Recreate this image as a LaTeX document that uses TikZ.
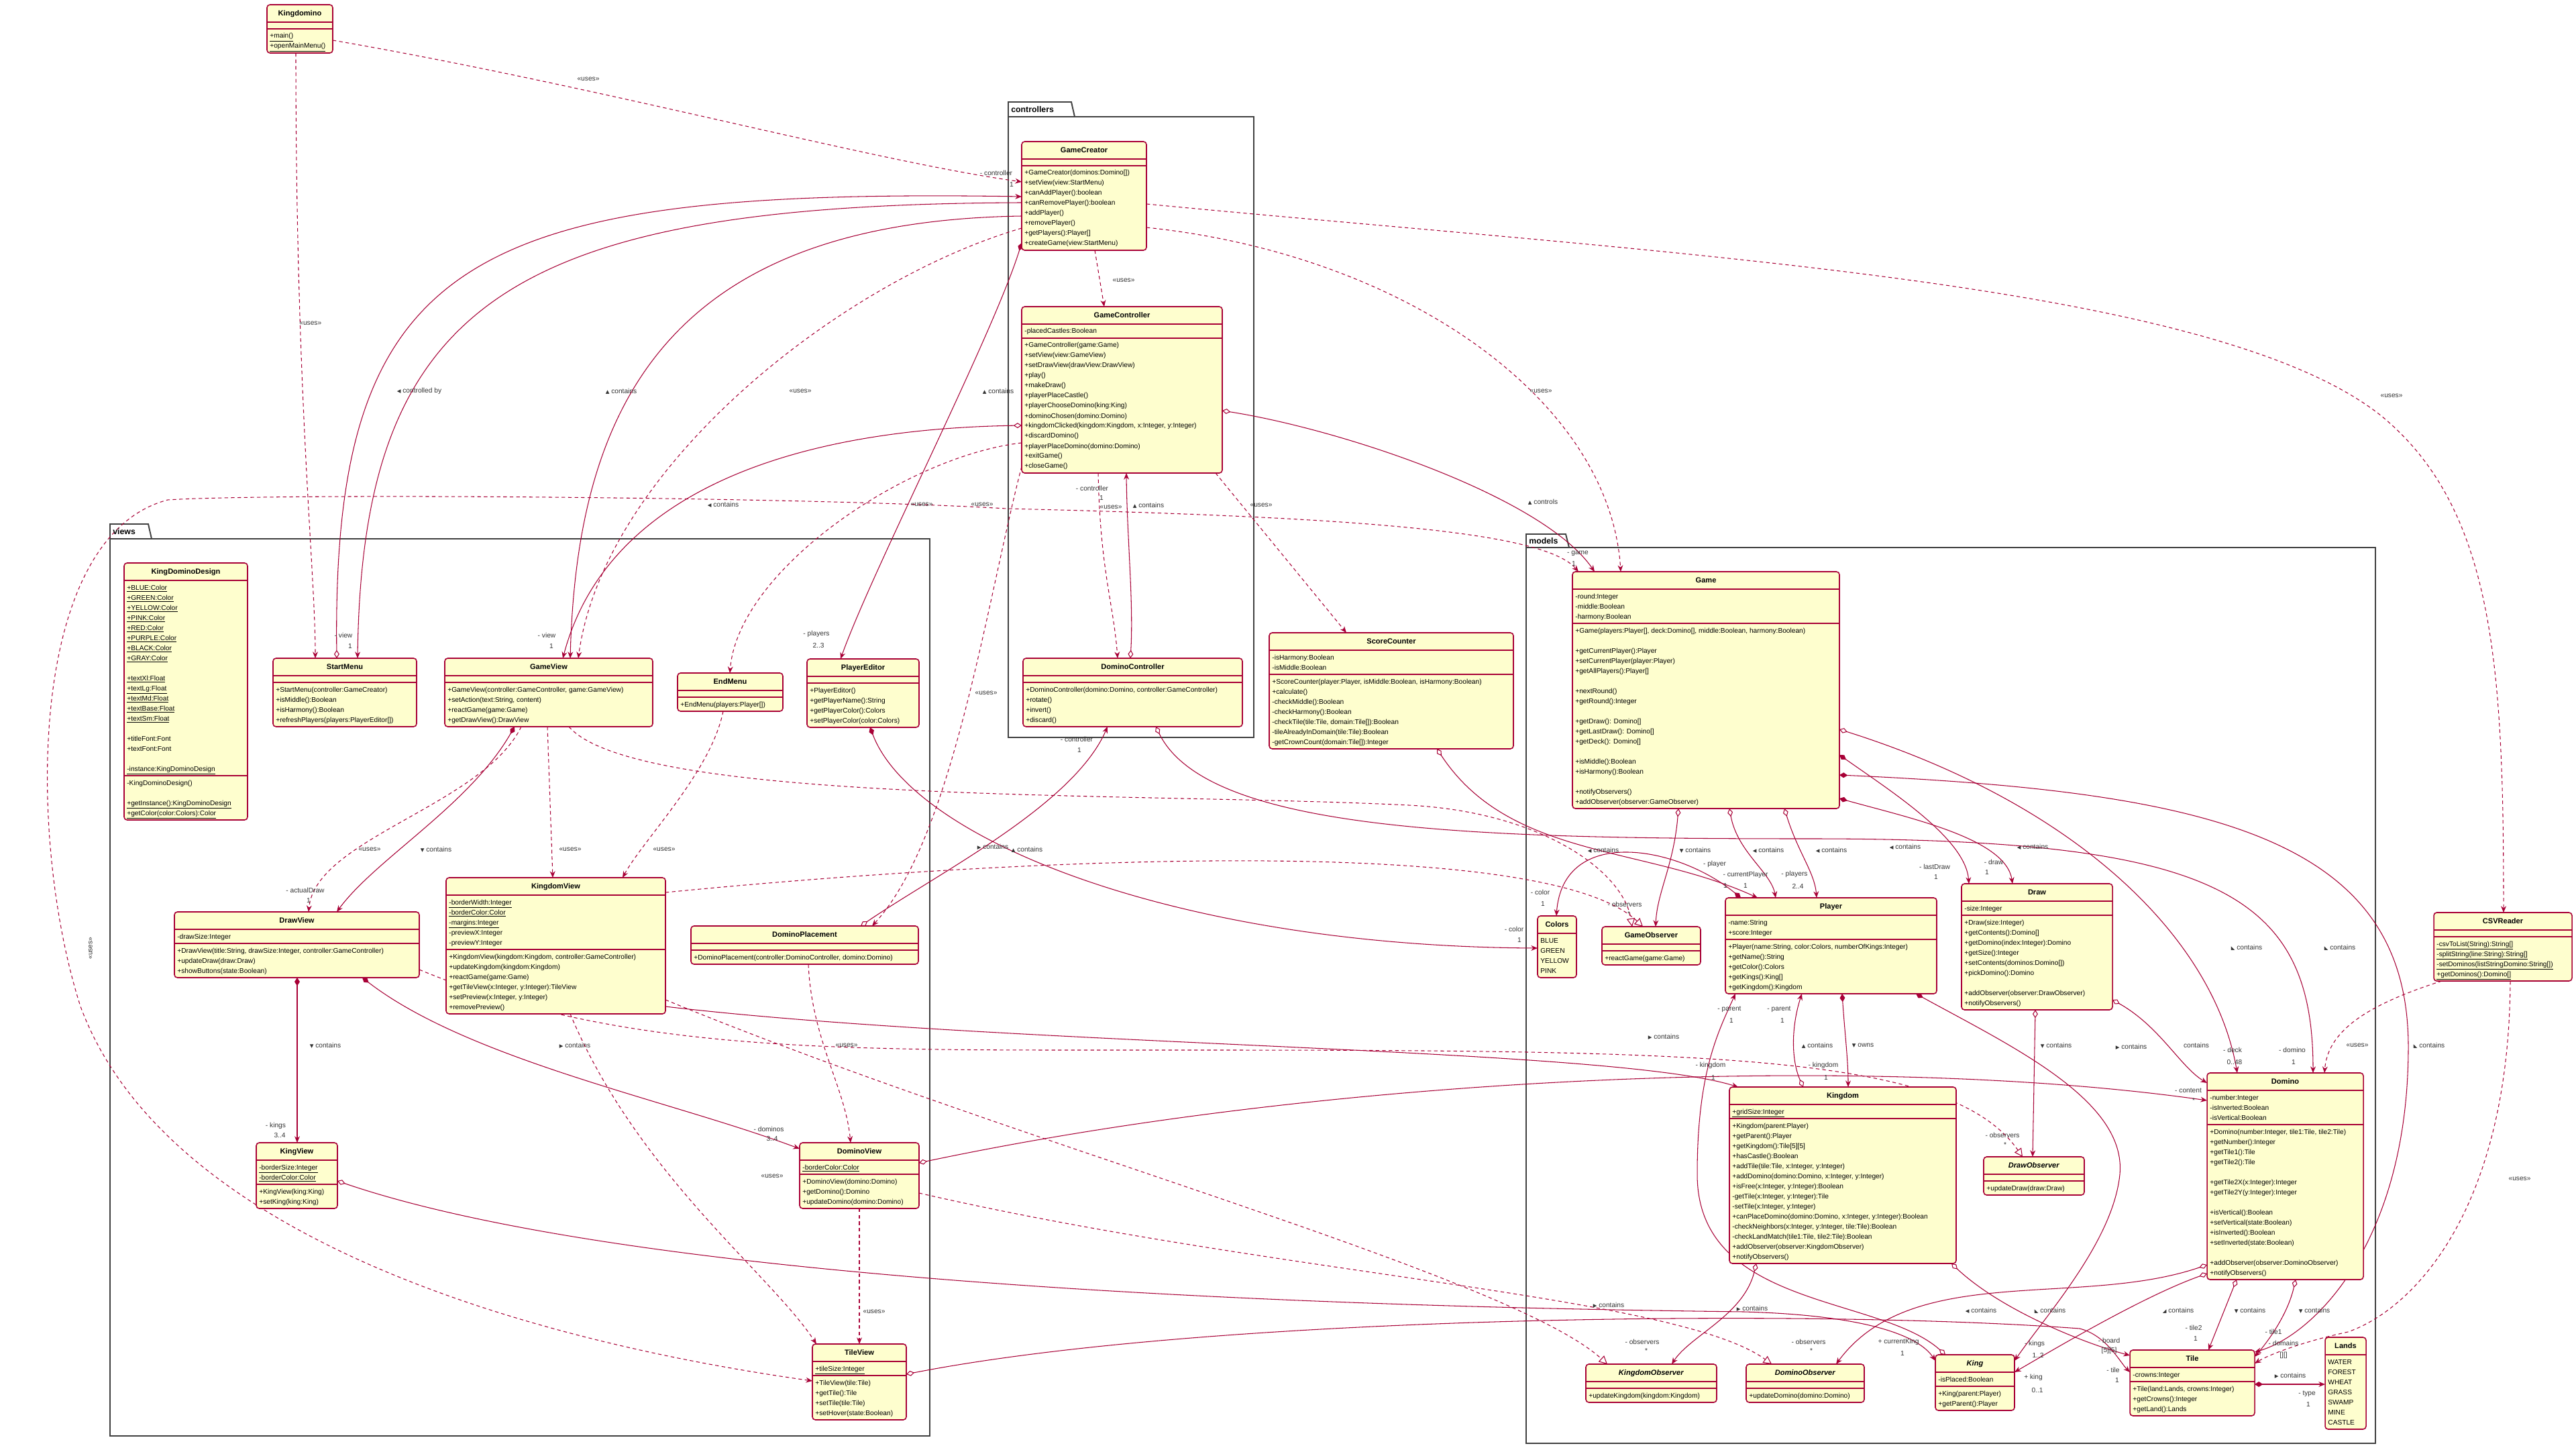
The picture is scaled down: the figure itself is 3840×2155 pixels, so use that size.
\documentclass[tikz,border=0pt]{standalone}
\usepackage{fontspec}
\setmainfont{Liberation Sans}
\newfontfamily\symf{DejaVu Sans}
\usetikzlibrary{arrows.meta,calc}
\pgfdeclarelayer{bg}
\pgfsetlayers{bg,main}
\definecolor{umlred}{HTML}{A80036}
\definecolor{umlfill}{HTML}{FEFECE}
\newcommand\tri[1]{{\symf\fontsize{4.2}{5}\selectfont #1}}
\newcommand\gU{\tri{▲}}
\newcommand\gD{\tri{▼}}
\newcommand\gL{\tri{◀}}
\newcommand\gR{\tri{▶}}
\newcommand\gSW{\tri{◣}}
\newcommand\gSE{\tri{◢}}
\tikzset{
 umlbox/.style={draw=umlred, fill=umlfill, line width=0.9pt, rounded corners=2.5pt, inner sep=0pt, outer sep=0pt},
 umlsep/.style={draw=umlred, line width=0.9pt},
 umltitle/.style={inner sep=0pt, font=\fontsize{6.3}{7}\selectfont\bfseries, anchor=base},
 umltext/.style={inner sep=0pt, font=\fontsize{5.8}{7}\selectfont, anchor=base west},
 lbl/.style={inner sep=0pt, font=\fontsize{5.8}{7}\selectfont, text=black!80},
 pkg/.style={draw=black!75, line width=1.1pt},
 pkgt/.style={inner sep=0pt, font=\fontsize{7}{8}\selectfont\bfseries, anchor=west},
 con/.style={draw=umlred, line width=0.6pt},
 dep/.style={con, dash pattern=on 3pt off 2.5pt},
 arr/.style={-{Stealth[length=5.5pt,width=4.5pt]}},
 oda/.style={{Diamond[fill=white,length=7pt,width=4.5pt]}-{Stealth[length=5.5pt,width=4.5pt]}},
 cda/.style={{Diamond[length=7pt,width=4.5pt]}-{Stealth[length=5.5pt,width=4.5pt]}},
 rea/.style={-{Triangle[fill=white,length=7pt,width=7pt]}},
 bia/.style={{Stealth[length=5.5pt,width=4.5pt]}-{Stealth[length=5.5pt,width=4.5pt]}},
}
\newcommand\umlclass[9]{%
  \pgfmathsetmacro\hA{(#5==0) ? 10 : 6+15*#5}%
  \pgfmathsetmacro\hM{(#6<0) ? 0 : ((#6==0) ? 10 : 6+15*#6)}%
  \pgfmathsetmacro\hT{26+\hA+\hM}%
  \pgfmathsetmacro\sB{26+\hA}%
  \node[umlbox, anchor=north west, minimum width=#4*0.02cm, minimum height=\hT*0.02cm] (#1) at (#2,#3) {};
  \node[umltitle] at ($(#1.north)+(0,16.5)$) {#7};
  \draw[umlsep] ($(#1.north west)+(0,26)$) -- ($(#1.north east)+(0,26)$);
  \ifnum#5>0
    \foreach \cl [count=\ci] in {#8} {\node[umltext] at ($(#1.north west)+(4,26+14+15*\ci-15)$) {\cl};}
  \fi
  \ifnum#6<0\else
    \draw[umlsep] ($(#1.north west)+(0,\sB)$) -- ($(#1.north east)+(0,\sB)$);
    \ifnum#6>0
      \foreach \cl [count=\ci] in {#9} {\node[umltext] at ($(#1.north west)+(4,\sB+14+15*\ci-15)$) {\cl};}
    \fi
  \fi
}
\begin{document}
\begin{tikzpicture}[x=0.02cm,y=-0.02cm]
\useasboundingbox (0,0) rectangle (3840,2155);
\begin{pgfonlayer}{bg}
\fill[white] (0,0) rectangle (3840,2155);
\draw[pkg] (1503,174) rectangle (1869,1099);
\draw[pkg] (1503,174) -- (1503,152) -- (1597,152) -- (1602,174);
\draw[pkg] (164,803) rectangle (1386,2140);
\draw[pkg] (164,803) -- (164,781) -- (221,781) -- (226,803);
\draw[pkg] (2275,816) rectangle (3541,2151);
\draw[pkg] (2275,816) -- (2275,796) -- (2334,796) -- (2339,816);
\end{pgfonlayer}
\node[pkgt] at (1507,163) {controllers};
\node[pkgt] at (168,792) {views};
\node[pkgt] at (2279,806) {models};
% classes
\umlclass{kd}{398}{7}{98}{0}{2}{Kingdomino}{}{{\underline{+main()}},{\underline{+openMainMenu()}}}
\umlclass{gcr}{1523}{211}{186}{0}{8}{GameCreator}{}{{+GameCreator(dominos:Domino[])},{+setView(view:StartMenu)},{+canAddPlayer():boolean},{+canRemovePlayer():boolean},{+addPlayer()},{+removePlayer()},{+getPlayers():Player[]},{+createGame(view:StartMenu)}}
\umlclass{gct}{1523}{457}{299}{1}{13}{GameController}{{-placedCastles:Boolean}}{{+GameController(game:Game)},{+setView(view:GameView)},{+setDrawView(drawView:DrawView)},{+play()},{+makeDraw()},{+playerPlaceCastle()},{+playerChooseDomino(king:King)},{+dominoChosen(domino:Domino)},{+kingdomClicked(kingdom:Kingdom, x:Integer, y:Integer)},{+discardDomino()},{+playerPlaceDomino(domino:Domino)},{+exitGame()},{+closeGame()}}
\umlclass{dct}{1525}{981}{327}{0}{4}{DominoController}{}{{+DominoController(domino:Domino, controller:GameController)},{+rotate()},{+invert()},{+discard()}}
\umlclass{sc}{1892}{943}{364}{2}{7}{ScoreCounter}{{-isHarmony:Boolean},{-isMiddle:Boolean}}{{+ScoreCounter(player:Player, isMiddle:Boolean, isHarmony:Boolean)},{+calculate()},{-checkMiddle():Boolean},{-checkHarmony():Boolean},{-checkTile(tile:Tile, domain:Tile[]):Boolean},{-tileAlreadyInDomain(tile:Tile):Boolean},{-getCrownCount(domain:Tile[]):Integer}}
\umlclass{gm}{2344}{852}{398}{3}{18}{Game}{{-round:Integer},{-middle:Boolean},{-harmony:Boolean}}{{+Game(players:Player[], deck:Domino[], middle:Boolean, harmony:Boolean)},{},{+getCurrentPlayer():Player},{+setCurrentPlayer(player:Player)},{+getAllPlayers():Player[]},{},{+nextRound()},{+getRound():Integer},{},{+getDraw(): Domino[]},{+getLastDraw(): Domino[]},{+getDeck(): Domino[]},{},{+isMiddle():Boolean},{+isHarmony():Boolean},{},{+notifyObservers()},{+addObserver(observer:GameObserver)}}
\umlclass{col}{2292}{1365}{58}{4}{-1}{Colors}{BLUE,GREEN,YELLOW,PINK}{}
\umlclass{gob}{2388}{1381}{147}{0}{1}{GameObserver}{}{{+reactGame(game:Game)}}
\umlclass{pl}{2572}{1338}{315}{2}{5}{Player}{{-name:String},{+score:Integer}}{{+Player(name:String, color:Colors, numberOfKings:Integer)},{+getName():String},{+getColor():Colors},{+getKings():King[]},{+getKingdom():Kingdom}}
\umlclass{dr}{2924}{1317}{225}{1}{9}{Draw}{{-size:Integer}}{{+Draw(size:Integer)},{+getContents():Domino[]},{+getDomino(index:Integer):Domino},{+getSize():Integer},{+setContents(dominos:Domino[])},{+pickDomino():Domino},{},{+addObserver(observer:DrawObserver)},{+notifyObservers()}}
\umlclass{kg}{2578}{1620}{338}{1}{14}{Kingdom}{{\underline{+gridSize:Integer}}}{{+Kingdom(parent:Player)},{+getParent():Player},{+getKingdom():Tile[5][5]},{+hasCastle():Boolean},{+addTile(tile:Tile, x:Integer, y:Integer)},{+addDomino(domino:Domino, x:Integer, y:Integer)},{+isFree(x:Integer, y:Integer):Boolean},{-getTile(x:Integer, y:Integer):Tile},{-setTile(x:Integer, y:Integer)},{+canPlaceDomino(domino:Domino, x:Integer, y:Integer):Boolean},{-checkNeighbors(x:Integer, y:Integer, tile:Tile):Boolean},{-checkLandMatch(tile1:Tile, tile2:Tile):Boolean},{+addObserver(observer:KingdomObserver)},{+notifyObservers()}}
\umlclass{dob}{2957}{1724}{150}{0}{1}{\textit{DrawObserver}}{}{{+updateDraw(draw:Draw)}}
\umlclass{dm}{3290}{1599}{233}{3}{15}{Domino}{{-number:Integer},{-isInverted:Boolean},{-isVertical:Boolean}}{{+Domino(number:Integer, tile1:Tile, tile2:Tile)},{+getNumber():Integer},{+getTile1():Tile},{+getTile2():Tile},{},{+getTile2X(x:Integer):Integer},{+getTile2Y(y:Integer):Integer},{},{+isVertical():Boolean},{+setVertical(state:Boolean)},{+isInverted():Boolean},{+setInverted(state:Boolean)},{},{+addObserver(observer:DominoObserver)},{+notifyObservers()}}
\umlclass{csv}{3628}{1360}{206}{0}{4}{CSVReader}{}{{\underline{-csvToList(String):String[]}},{\underline{-splitString(line:String):String[]}},{\underline{-setDominos(listStringDomino:String[])}},{\underline{+getDominos():Domino[]}}}
\umlclass{kob}{2364}{2033}{195}{0}{1}{\textit{KingdomObserver}}{}{{+updateKingdom(kingdom:Kingdom)}}
\umlclass{mob}{2603}{2033}{176}{0}{1}{\textit{DominoObserver}}{}{{+updateDomino(domino:Domino)}}
\umlclass{kn}{2885}{2019}{118}{1}{2}{\textit{King}}{{-isPlaced:Boolean}}{{+King(parent:Player)},{+getParent():Player}}
\umlclass{tl}{3175}{2012}{186}{1}{3}{Tile}{{-crowns:Integer}}{{+Tile(land:Lands, crowns:Integer)},{+getCrowns():Integer},{+getLand():Lands}}
\umlclass{ld}{3466}{1993}{61}{7}{-1}{Lands}{WATER,FOREST,WHEAT,GRASS,SWAMP,MINE,CASTLE}{}
\umlclass{kdd}{185}{839}{184}{19}{4}{KingDominoDesign}{{\underline{+BLUE:Color}},{\underline{+GREEN:Color}},{\underline{+YELLOW:Color}},{\underline{+PINK:Color}},{\underline{+RED:Color}},{\underline{+PURPLE:Color}},{\underline{+BLACK:Color}},{\underline{+GRAY:Color}},{},{\underline{+textXl:Float}},{\underline{+textLg:Float}},{\underline{+textMd:Float}},{\underline{+textBase:Float}},{\underline{+textSm:Float}},{},{+titleFont:Font},{+textFont:Font},{},{\underline{-instance:KingDominoDesign}}}{{-KingDominoDesign()},{},{\underline{+getInstance():KingDominoDesign}},{\underline{+getColor(color:Colors):Color}}}
\umlclass{sm}{407}{981}{214}{0}{4}{StartMenu}{}{{+StartMenu(controller:GameCreator)},{+isMiddle():Boolean},{+isHarmony():Boolean},{+refreshPlayers(players:PlayerEditor[])}}
\umlclass{gv}{663}{981}{310}{0}{4}{GameView}{}{{+GameView(controller:GameController, game:GameView)},{+setAction(text:String, content)},{+reactGame(game:Game)},{+getDrawView():DrawView}}
\umlclass{em}{1010}{1003}{157}{0}{1}{EndMenu}{}{{+EndMenu(players:Player[])}}
\umlclass{pe}{1203}{982}{167}{0}{4}{PlayerEditor}{}{{+PlayerEditor()},{+getPlayerName():String},{+getPlayerColor():Colors},{+setPlayerColor(color:Colors)}}
\umlclass{dv}{260}{1359}{365}{1}{3}{DrawView}{{-drawSize:Integer}}{{+DrawView(title:String, drawSize:Integer, controller:GameController)},{+updateDraw(draw:Draw)},{+showButtons(state:Boolean)}}
\umlclass{kv}{665}{1308}{327}{5}{6}{KingdomView}{{\underline{-borderWidth:Integer}},{\underline{-borderColor:Color}},{\underline{-margins:Integer}},{-previewX:Integer},{-previewY:Integer}}{{+KingdomView(kingdom:Kingdom, controller:GameController)},{+updateKingdom(kingdom:Kingdom)},{+reactGame(game:Game)},{+getTileView(x:Integer, y:Integer):TileView},{+setPreview(x:Integer, y:Integer)},{+removePreview()}}
\umlclass{dp}{1030}{1380}{339}{0}{1}{DominoPlacement}{}{{+DominoPlacement(controller:DominoController, domino:Domino)}}
\umlclass{knv}{382}{1703}{121}{2}{2}{KingView}{{\underline{-borderSize:Integer}},{\underline{-borderColor:Color}}}{{+KingView(king:King)},{+setKing(king:King)}}
\umlclass{dmv}{1192}{1703}{178}{1}{3}{DominoView}{{\underline{-borderColor:Color}}}{{+DominoView(domino:Domino)},{+getDomino():Domino},{+updateDomino(domino:Domino)}}
\umlclass{tv}{1211}{2003}{140}{1}{4}{TileView}{{\underline{+tileSize:Integer}}}{{+TileView(tile:Tile)},{+getTile():Tile},{+setTile(tile:Tile)},{+setHover(state:Boolean)}}
\begin{pgfonlayer}{bg}
% ---------- connectors: controllers / views ----------
\draw[dep,arr] (kd.east |- 0,60) .. controls (900,130) and (1300,240) .. (gcr.west |- 0,271);
\draw[dep,arr] (kd.south -| 441,0) .. controls (441,600) and (470,850) .. (sm.north -| 470,0);
\draw[con,oda] (sm.north -| 502,0) .. controls (495,380) and (700,280) .. (gcr.west |- 0,293);
\draw[con,arr] (gcr.west |- 0,302) .. controls (760,305) and (540,450) .. (sm.north -| 533,0);
\draw[con,arr] (gcr.west |- 0,322) .. controls (1000,330) and (860,600) .. (gv.north -| 850,0);
\draw[dep,arr] (gcr.west |- 0,340) .. controls (1250,420) and (900,700) .. (gv.north -| 862,0);
\draw[con,cda] (gcr.west |- 0,362) .. controls (1480,500) and (1300,850) .. (pe.north -| 1253,0);
\draw[dep,arr] (gcr.south -| 1632,0) -- (gct.north -| 1646,0);
\draw[dep,arr] (gcr.east |- 0,304) .. controls (2500,380) and (3300,420) .. (3550,620) .. controls (3720,760) and (3732,1000) .. (csv.north -| 3732,0);
\draw[dep,arr] (gcr.east |- 0,339) .. controls (2100,380) and (2400,600) .. (gm.north -| 2416,0);
\draw[con,oda] (gct.east |- 0,612) .. controls (2000,640) and (2300,740) .. (gm.north -| 2377,0);
\draw[dep,arr] (gct.south -| 1637,0) .. controls (1640,850) and (1660,900) .. (dct.north -| 1666,0);
\draw[con,oda] (dct.north -| 1685,0) .. controls (1690,900) and (1680,800) .. (gct.south -| 1679,0);
\draw[dep,arr] (gct.south -| 1812,0) -- (sc.north -| 2007,0);
\draw[con,oda] (gct.west |- 0,634) .. controls (1150,640) and (900,750) .. (gv.north -| 839,0);
\draw[dep,arr] (gct.west |- 0,660) .. controls (1350,680) and (1100,850) .. (em.north -| 1088,0);
\draw[dep,arr] (gct.west |- 0,695) .. controls (1470,900) and (1420,1250) .. (dp.north -| 1300,0);
\draw[dep,bia] (tv.west |- 0,2058) .. controls (800,2000) and (250,1850) .. (120,1500) .. controls (40,1250) and (40,800) .. (250,745) .. controls (400,735) and (1200,740) .. (1500,758) .. controls (2000,770) and (2300,790) .. (gm.north -| 2353,0);
\draw[con,cda] (gv.south -| 767,0) .. controls (700,1200) and (560,1280) .. (dv.north -| 502,0);
\draw[dep,arr] (gv.south -| 777,0) .. controls (720,1200) and (470,1250) .. (dv.north -| 460,0);
\draw[dep,arr] (gv.south -| 816,0) -- (kv.north -| 824,0);
\draw[dep,arr] (em.south -| 1078,0) .. controls (1060,1150) and (960,1250) .. (kv.north -| 928,0);
\draw[con,cda] (pe.south -| 1297,0) .. controls (1360,1250) and (1750,1410) .. (col.west |- 0,1413);
\draw[con,oda] (dp.north -| 1283,0) .. controls (1400,1300) and (1600,1200) .. (dct.south -| 1651,0);
\draw[con,oda] (dct.south -| 1723,0) .. controls (1800,1240) and (2200,1250) .. (2700,1250) .. controls (3300,1250) and (3448,1330) .. (dm.north -| 3448,0);
\draw[dep,arr] (dp.south -| 1205,0) .. controls (1210,1550) and (1260,1620) .. (dmv.north -| 1268,0);
\draw[dep,arr] (dmv.south -| 1281,0) -- (tv.north -| 1281,0);
\draw[dep,arr] (kv.south -| 850,0) .. controls (950,1750) and (1150,1900) .. (tv.north -| 1217,0);
\draw[con,cda] (dv.south -| 443,0) -- (knv.north -| 443,0);
\draw[con,cda] (dv.south -| 540,0) .. controls (700,1580) and (1000,1640) .. (dmv.west |- 0,1712);
\draw[dep,rea] (dv.east |- 0,1445) .. controls (900,1560) and (1200,1565) .. (1600,1565) .. controls (2500,1565) and (2900,1560) .. (dob.north -| 3015,0);
\draw[dep,rea] (kv.east |- 0,1490) .. controls (1500,1700) and (2250,1900) .. (kob.north -| 2396,0);
\draw[dep,rea] (dmv.east |- 0,1778) .. controls (1900,1900) and (2500,1930) .. (mob.north -| 2641,0);
\draw[con,oda] (tv.east |- 0,2048) .. controls (1800,1960) and (2700,1950) .. (3100,1980) .. controls (3140,1990) and (3160,2030) .. (tl.west |- 0,2045);
\draw[con,oda] (knv.east |- 0,1760) .. controls (1000,1930) and (2200,1950) .. (2600,1955) .. controls (2780,1960) and (2860,1990) .. (kn.west |- 0,2028);
\draw[dep,rea] (gv.south -| 848,0) .. controls (950,1200) and (1700,1180) .. (2100,1200) .. controls (2300,1210) and (2420,1300) .. (gob.north -| 2433,0);
\draw[dep,rea] (kv.east |- 0,1330) .. controls (1500,1280) and (2300,1240) .. (gob.north -| 2449,0);
\draw[con,oda] (dmv.east |- 0,1733) .. controls (2000,1600) and (2800,1570) .. (dm.west |- 0,1640);
\draw[con,arr] (kv.east |- 0,1500) .. controls (1500,1560) and (2400,1560) .. (kg.north -| 2591,0);
% ---------- connectors: models ----------
\draw[con,oda] (gm.south -| 2502,0) .. controls (2495,1290) and (2470,1330) .. (gob.north -| 2468,0);
\draw[con,oda] (gm.south -| 2578,0) .. controls (2590,1270) and (2640,1300) .. (pl.north -| 2647,0);
\draw[con,oda] (gm.south -| 2660,0) .. controls (2680,1270) and (2705,1300) .. (pl.north -| 2708,0);
\draw[con,oda] (sc.south -| 2142,0) .. controls (2250,1280) and (2450,1260) .. (pl.north -| 2620,0);
\draw[con,cda] (pl.north -| 2595,0) .. controls (2500,1260) and (2330,1230) .. (col.north -| 2320,0);
\draw[con,cda] (gm.east |- 0,1125) .. controls (2820,1180) and (2930,1250) .. (dr.north -| 2935,0);
\draw[con,cda] (gm.east |- 0,1190) .. controls (2850,1220) and (2990,1250) .. (dr.north -| 3000,0);
\draw[con,oda] (gm.east |- 0,1087) .. controls (3100,1200) and (3300,1400) .. (dm.north -| 3335,0);
\draw[con,oda] (dr.east |- 0,1490) .. controls (3220,1530) and (3250,1590) .. (dm.west |- 0,1614);
\draw[con,oda] (dr.south -| 3034,0) -- (dob.north -| 3030,0);
\draw[con,cda] (pl.south -| 2746,0) .. controls (2750,1540) and (2755,1580) .. (kg.north -| 2755,0);
\draw[con,oda] (kg.north -| 2688,0) .. controls (2670,1580) and (2670,1530) .. (pl.south -| 2686,0);
\draw[con,oda] (kn.north -| 2900,0) .. controls (2800,1930) and (2530,1950) .. (2530,1750) .. controls (2530,1600) and (2560,1540) .. (pl.south -| 2587,0);
\draw[con,cda] (pl.south -| 2856,0) .. controls (3000,1560) and (3170,1640) .. (3160,1750) .. controls (3150,1850) and (3050,1960) .. (kn.east |- 0,2028);
\draw[con,oda] (kg.south -| 2618,0) .. controls (2600,1960) and (2520,1990) .. (kob.north -| 2492,0);
\draw[con,oda] (kg.south -| 2909,0) .. controls (2980,1950) and (3100,2000) .. (tl.west |- 0,2020);
\draw[con,oda] (dm.west |- 0,1885) .. controls (3100,1950) and (2850,1880) .. (mob.north -| 2737,0);
\draw[con,oda] (dm.west |- 0,1898) .. controls (3200,1930) and (3080,2000) .. (kn.east |- 0,2045);
\draw[con,oda] (dm.south -| 3334,0) -- (tl.north -| 3292,0);
\draw[con,oda] (dm.south -| 3422,0) .. controls (3410,1960) and (3380,2000) .. (tl.east |- 0,2022);
\draw[con,cda] (tl.east |- 0,2063) -- (ld.west |- 0,2063);
\draw[dep,arr] (csv.south -| 3640,0) .. controls (3520,1500) and (3470,1540) .. (dm.north -| 3465,0);
\draw[dep,arr] (csv.south -| 3742,0) .. controls (3740,1800) and (3600,1950) .. (3500,1985) .. controls (3430,2000) and (3380,2020) .. (tl.east |- 0,2032);
\draw[con,cda] (gm.east |- 0,1155) .. controls (3300,1180) and (3590,1250) .. (3590,1560) .. controls (3590,1850) and (3450,1990) .. (tl.east |- 0,2015);
\end{pgfonlayer}
% ---------- labels ----------
\node[lbl] at (877,118) {«uses»};
\node[lbl,anchor=west] at (446,482) {«uses»};
\node[lbl] at (625,583) {\gL\ controlled by};
\node[lbl] at (1485,258) {- controller}; \node[lbl] at (1508,275) {1};
\node[lbl] at (512,947) {- view}; \node[lbl] at (522,963) {1};
\node[lbl] at (926,583) {\gU\ contains};
\node[lbl] at (815,947) {- view}; \node[lbl] at (822,963) {1};
\node[lbl] at (1193,583) {«uses»};
\node[lbl] at (1488,583) {\gU\ contains};
\node[lbl] at (1217,945) {- players}; \node[lbl] at (1220,962) {2..3};
\node[lbl] at (1675,418) {«uses»};
\node[lbl] at (3565,590) {«uses»};
\node[lbl] at (2297,583) {«uses»};
\node[lbl] at (2300,748) {\gU\ controls};
\node[lbl] at (2352,825) {- game}; \node[lbl] at (2346,840) {1};
\node[lbl] at (1628,728) {- controller}; \node[lbl] at (1642,742) {1};
\node[lbl] at (1656,756) {«uses»}; \node[lbl] at (1712,753) {\gU\ contains};
\node[lbl] at (1880,753) {«uses»};
\node[lbl] at (1078,752) {\gL\ contains};
\node[lbl] at (1374,752) {«uses»};
\node[lbl] at (1464,752) {«uses»};
\node[lbl] at (1470,1033) {«uses»};
\node[lbl,rotate=90] at (135,1413) {«uses»};
\node[lbl] at (650,1266) {\gD\ contains};
\node[lbl] at (455,1327) {- actualDraw}; \node[lbl] at (460,1342) {1};
\node[lbl] at (551,1266) {«uses»};
\node[lbl] at (850,1266) {«uses»};
\node[lbl] at (990,1266) {«uses»};
\node[lbl] at (1480,1262) {\gR\ contains};
\node[lbl] at (2257,1385) {- color}; \node[lbl] at (2265,1401) {1};
\node[lbl] at (1531,1266) {\gU\ contains};
\node[lbl] at (1605,1102) {- controller}; \node[lbl] at (1609,1118) {1};
\node[lbl] at (3488,1412) {\gSW\ contains};
\node[lbl] at (3417,1565) {- domino}; \node[lbl] at (3419,1583) {1};
\node[lbl] at (1262,1558) {«uses»};
\node[lbl] at (1303,1955) {«uses»};
\node[lbl] at (1151,1753) {«uses»};
\node[lbl] at (485,1558) {\gD\ contains};
\node[lbl] at (411,1678) {- kings}; \node[lbl] at (417,1692) {3..4};
\node[lbl] at (857,1558) {\gR\ contains};
\node[lbl] at (1146,1683) {- dominos}; \node[lbl] at (1151,1697) {3..4};
\node[lbl] at (2985,1692) {- observers}; \node[lbl] at (2989,1706) {*};
\node[lbl] at (2398,1945) {\gR\ contains};
\node[lbl] at (3150,2042) {- tile}; \node[lbl] at (3156,2057) {1};
\node[lbl] at (2830,2000) {+ currentKing}; \node[lbl] at (2836,2017) {1};
\node[lbl] at (2527,1267) {\gD\ contains};
\node[lbl] at (2422,1348) {- observers}; \node[lbl] at (2428,1362) {*};
\node[lbl] at (2602,1304) {- currentPlayer}; \node[lbl] at (2602,1320) {1};
\node[lbl] at (2556,1288) {- player}; \node[lbl] at (2572,1320) {1};
\node[lbl] at (2636,1267) {\gL\ contains};
\node[lbl] at (2675,1303) {- players}; \node[lbl] at (2680,1321) {2..4};
\node[lbl] at (2730,1267) {\gL\ contains};
\node[lbl] at (2390,1267) {\gL\ contains};
\node[lbl] at (2296,1330) {- color}; \node[lbl] at (2300,1347) {1};
\node[lbl] at (2840,1262) {\gL\ contains};
\node[lbl] at (2884,1292) {- lastDraw}; \node[lbl] at (2886,1307) {1};
\node[lbl] at (3030,1262) {\gL\ contains};
\node[lbl] at (2972,1285) {- draw}; \node[lbl] at (2962,1300) {1};
\node[lbl] at (3349,1412) {\gSW\ contains};
\node[lbl] at (3328,1565) {- deck}; \node[lbl] at (3331,1583) {0..48};
\node[lbl] at (3274,1558) {contains};
\node[lbl] at (3262,1625) {- content}; \node[lbl] at (3270,1640) {*};
\node[lbl] at (3065,1558) {\gD\ contains};
\node[lbl] at (2777,1558) {\gD\ owns};
\node[lbl] at (2718,1588) {- kingdom}; \node[lbl] at (2722,1606) {1};
\node[lbl] at (2709,1558) {\gU\ contains};
\node[lbl] at (2652,1504) {- parent}; \node[lbl] at (2657,1521) {1};
\node[lbl] at (2578,1504) {- parent}; \node[lbl] at (2581,1521) {1};
\node[lbl] at (3033,2003) {- kings}; \node[lbl] at (3038,2020) {1..2};
\node[lbl] at (2612,1950) {\gR\ contains};
\node[lbl] at (2448,2000) {- observers}; \node[lbl] at (2454,2013) {*};
\node[lbl] at (3056,1953) {\gSW\ contains};
\node[lbl] at (3144,1998) {- board}; \node[lbl] at (3144,2013) {[5][5]};
\node[lbl] at (2953,1953) {\gL\ contains};
\node[lbl] at (2696,2000) {- observers}; \node[lbl] at (2700,2013) {*};
\node[lbl] at (3247,1953) {\gSE\ contains};
\node[lbl] at (3031,2053) {+ king}; \node[lbl] at (3037,2072) {0..1};
\node[lbl] at (3354,1953) {\gD\ contains};
\node[lbl] at (3270,1979) {- tile2}; \node[lbl] at (3273,1995) {1};
\node[lbl] at (3450,1953) {\gD\ contains};
\node[lbl] at (3389,1985) {- tile1}; \node[lbl] at (3404,2002) {- domains}; \node[lbl] at (3404,2020) {[][]};
\node[lbl] at (3414,2050) {\gR\ contains};
\node[lbl] at (3439,2077) {- type}; \node[lbl] at (3441,2093) {1};
\node[lbl] at (3514,1558) {«uses»};
\node[lbl] at (3756,1757) {«uses»};
\node[lbl] at (3621,1558) {\gSW\ contains};
\node[lbl] at (3177,1560) {\gR\ contains};
\node[lbl] at (2480,1545) {\gR\ contains};
\node[lbl] at (2550,1588) {- kingdom}; \node[lbl] at (2554,1606) {1};
\end{tikzpicture}
\end{document}
